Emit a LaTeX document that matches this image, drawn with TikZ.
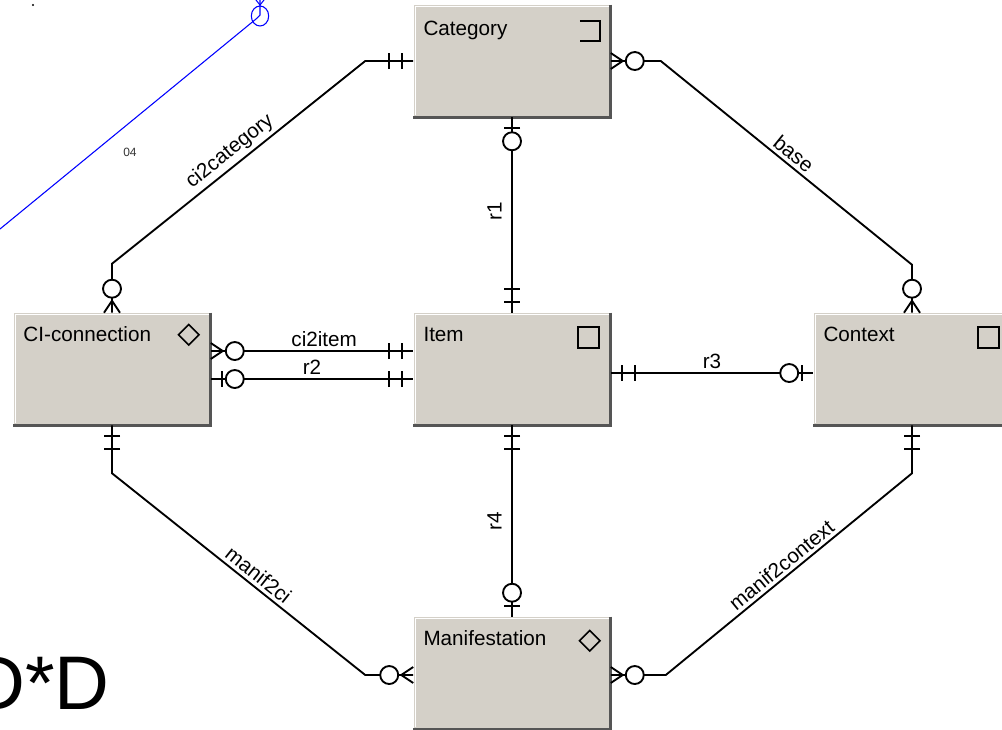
\documentclass[tikz,border=0pt]{standalone}
\usepackage{fontspec}
\setmainfont{Liberation Sans}
\usepackage{tikz}
\usetikzlibrary{shapes.geometric}

\definecolor{boxgray}{RGB}{212,208,200}
\definecolor{edgedark}{RGB}{85,85,85}

\begin{document}
\begin{tikzpicture}[x=0.75pt, y=-0.75pt, node distance=300pt,
    entity/.style={rectangle, fill=boxgray, minimum width=147.75pt, minimum height=84pt, inner sep=0pt},
    title/.style={anchor=base west, inner sep=0pt, font=\fontsize{15.5}{18}\selectfont},
    lab/.style={font=\fontsize{15.5}{18}\selectfont, inner sep=2.5pt},
    rel/.style={line width=1.4pt},
    icon/.style={line width=1.2pt},
    one/.pic={\draw[rel] (11,-8) -- (11,8) (24,-8) -- (24,8);},
    zone/.pic={\draw[rel] (11,-8) -- (11,8); \draw[rel, fill=white] (24,0) circle [radius=6.75pt];},
    zmany/.pic={\draw[rel] (0,-8) -- (12,0) -- (0,8); \draw[rel, fill=white] (24,0) circle [radius=6.75pt];}
  ]
                    \useasboundingbox (0,0) rectangle (1002,729);
                    \clip (0,0) rectangle (1002,729);
                    % entities
                    \node[entity] (item) at (512,369) {};
                    \node[entity] (cat) [above of=item, yshift=-69pt] {};
                    \node[entity] (ci) [left of=item] {};
                    \node[entity] (ctx) [right of=item] {};
                    \node[entity] (man) [below of=item, yshift=72pt] {};
                    \foreach \n in {cat,ci,item,ctx,man} {
                        \draw[white, line width=1pt] ([shift={(2,-2)}]\n.south west) -- ([shift={(2,2)}]\n.north west) -- ([shift={(-2,2)}]\n.north east);
                        \draw[edgedark, line width=2.2pt] (\n.north east) -- (\n.south east) -- (\n.south west);
                    }
                    \node[title] (cat-t) at ([shift={(10,31)}]cat.north west) {Category};
                    \node[title] (ci-t) at ([shift={(10,29)}]ci.north west) {CI-connection};
                    \node[title] (item-t) at ([shift={(10,29)}]item.north west) {Item};
                    \node[title] (ctx-t) at ([shift={(10,29)}]ctx.north west) {Context};
                    \node[title] (man-t) at ([shift={(10,29)}]man.north west) {Manifestation};
                    % icons
                    \draw[icon] ([shift={(-31,16)}]cat.north east) -- ++(20,0) -- ++(0,20) -- ++(-20,0);
                    \draw[icon] ([shift={(-33,14)}]item.north east) rectangle ++(21,21);
                    \draw[icon] ([shift={(-33,14)}]ctx.north east) rectangle ++(21,21);
                    \node[icon, draw, diamond, minimum size=16pt, inner sep=0pt] (ci-d) at ([shift={(-22,22)}]ci.north east) {};
                    \node[icon, draw, diamond, minimum size=16pt, inner sep=0pt] (man-d) at ([shift={(-21,24)}]man.north east) {};
                    % relationships
                    \draw[rel] (ci.north) -- ++(0,-49) -- node[lab, above, sloped] {ci2category} ([shift={(-48,0)}]cat.west) -- (cat.west);
                    \draw[rel] (cat.east) -- ++(50,0) -- node[lab, above, sloped] {base} ([shift={(0,-48)}]ctx.north) -- (ctx.north);
                    \draw[rel] (item.north) -- node[lab, anchor=south, rotate=90, pos=0.52, inner sep=7pt] {r1} (cat.south);
                    \draw[rel] ([shift={(0,-18)}]ci.east) -- node[lab, above, pos=0.56] {ci2item} ([shift={(0,-18)}]item.west);
                    \draw[rel] ([shift={(0,10)}]ci.east) -- node[lab, above] {r2} ([shift={(0,10)}]item.west);
                    \draw[rel] ([shift={(0,4)}]item.east) -- node[lab, above] {r3} ([shift={(0,4)}]ctx.west);
                    \draw[rel] (man.north) -- node[lab, anchor=south, rotate=90, inner sep=7pt] {r4} (item.south);
                    \draw[rel] (ci.south) -- ++(0,48) -- node[lab, above, sloped, pos=0.55] {manif2ci} ([shift={(-48,2)}]man.west) -- ([shift={(0,2)}]man.west);
                    \draw[rel] ([shift={(0,2)}]man.east) -- ++(55,0) -- node[lab, above, sloped] {manif2context} ([shift={(0,48)}]ctx.south) -- (ctx.south);
                    % ends
                    \pic[rotate=180] at (cat.west) {one};
                    \pic[rotate=90] at (ci.north) {zmany};
                    \pic at (cat.east) {zmany};
                    \pic[rotate=90] at (ctx.north) {zmany};
                    \pic[rotate=-90] at (cat.south) {zone};
                    \pic[rotate=90] at (item.north) {one};
                    \pic at ([shift={(0,-18)}]ci.east) {zmany};
                    \pic[rotate=180] at ([shift={(0,-18)}]item.west) {one};
                    \pic at ([shift={(0,10)}]ci.east) {zone};
                    \pic[rotate=180] at ([shift={(0,10)}]item.west) {one};
                    \pic at ([shift={(0,4)}]item.east) {one};
                    \pic[rotate=180] at ([shift={(0,4)}]ctx.west) {zone};
                    \pic[rotate=-90] at (item.south) {one};
                    \pic[rotate=90] at (man.north) {zone};
                    \pic[rotate=-90] at (ci.south) {one};
                    \pic[rotate=180] at ([shift={(0,2)}]man.west) {zmany};
                    \pic at ([shift={(0,2)}]man.east) {zmany};
                    \pic[rotate=-90] at (ctx.south) {one};
                    % leftovers
                    \draw[blue, line width=0.8pt] (0,229) -- (256,19) -- (260,15) -- (260,0);
                    \draw[blue, line width=0.8pt] (260,16) ellipse [x radius=6.5pt, y radius=7.5pt];
                    \draw[blue, line width=0.8pt] (256,0) -- (260,5) -- (264,0);
                    \fill (33,5) circle [radius=0.9pt];
                    \node[font=\fontsize{9}{10}\selectfont, text=black!80] (note) at (130,152) {04};
                    \node[anchor=base east, inner sep=0pt, font=\fontsize{57}{60}\selectfont] (big) at (110,709) {D*D};
                \end{tikzpicture}
\end{document}
